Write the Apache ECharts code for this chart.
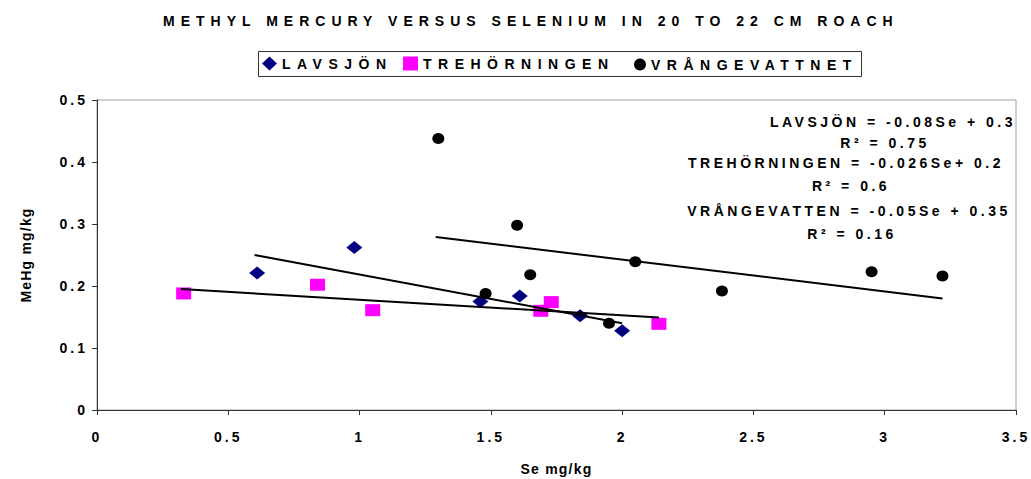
<!DOCTYPE html>
<html>
<head>
<meta charset="utf-8">
<script src="https://cdn.jsdelivr.net/npm/echarts@6/dist/echarts.min.js"></script>
<style>
  html, body { margin: 0; padding: 0; background: #fff; }
  #chart { width: 1031px; height: 479px; }
  /* the original uses wide letter spacing everywhere */
  #chart text[style*="zkTitle"] { letter-spacing: 6px; }
  #chart text[style*="zkLegend"] { letter-spacing: 6.5px; }
  #chart text[style*="zkNote"] { letter-spacing: 3.5px; }
  #chart text[style*="zkTick"] { letter-spacing: 3px; }
  #chart text[style*="zkName"] { letter-spacing: 1.2px; }
</style>
</head>
<body>
<div id="chart"></div>
<script>
// lakes
var lakeNames = ['LAVSJÖN', 'TREHÖRNINGEN', 'VRÅNGEVATTNET']

// Se mg/kg (x) and MeHg mg/kg (y) per fish
var lavX = [0.61, 0.98, 1.46, 1.61, 1.84, 2.00]
var lavY = [0.221, 0.262, 0.175, 0.184, 0.152, 0.128]
var treX = [0.33, 0.84, 1.05, 1.69, 1.73, 2.14]
var treY = [0.188, 0.202, 0.161, 0.160, 0.174, 0.139]
var vraX = [1.30, 1.48, 1.60, 1.65, 1.95, 2.05, 2.38, 2.95, 3.22]
var vraY = [0.438, 0.188, 0.298, 0.218, 0.140, 0.239, 0.192, 0.223, 0.216]

// linear trend lines, start and end
var lavLineX = [0.60, 2.00]
var lavLineY = [0.250, 0.140]
var treLineX = [0.32, 2.14]
var treLineY = [0.195, 0.149]
var vraLineX = [1.29, 3.22]
var vraLineY = [0.279, 0.180]

var noteLines = [
  'LAVSJÖN = -0.08Se + 0.3',
  'R² = 0.75',
  'TREHÖRNINGEN = -0.026Se+ 0.2',
  'R² = 0.6',
  'VRÅNGEVATTEN = -0.05Se + 0.35',
  'R² = 0.16'
]

function pairs(xs, ys) {
  return xs.map(function (x, i) { return [x, ys[i]] })
}

var font = '"Liberation Sans", Arial'
var chart = echarts.init(document.getElementById('chart'), null, { renderer: 'svg' })

var noteX = [893, 885, 846, 851, 849, 852]
var noteY = [122, 143, 163, 186, 211, 234]

// one legend per lake so each label keeps its spaced width
var legendLeft = [262, 403, 634]
var legendIcons = ['diamond', 'rect', 'circle']
var legendIconW = [15, 15, 12]
var legendIconH = [14, 14, 12]
var legends = lakeNames.map(function (n, i) {
  return {
    data: [{ name: n, icon: legendIcons[i] }],
    left: legendLeft[i],
    top: 63.5 - legendIconH[i] / 2,
    padding: 0,
    itemWidth: legendIconW[i],
    itemHeight: legendIconH[i],
    textStyle: {
      fontFamily: font + ', zkLegend',
      fontSize: 14,
      fontWeight: 'bold',
      color: '#000'
    }
  }
})

var graphics = noteLines.map(function (t, i) {
  return {
    type: 'text',
    x: noteX[i],
    y: noteY[i],
    style: {
      text: t,
      align: 'center',
      verticalAlign: 'middle',
      font: 'bold 14px ' + font + ', zkNote',
      fill: '#000'
    }
  }
})
// legend frame
graphics.push({
  type: 'rect',
  shape: { x: 258.5, y: 51.5, width: 603, height: 25 },
  style: { fill: 'none', stroke: '#333', lineWidth: 1 }
})

var option = {
  animation: false,
  title: {
    text: 'METHYL MERCURY VERSUS SELENIUM IN 20 TO 22 CM ROACH',
    left: 163,
    top: 14,
    padding: 0,
    textAlign: 'left',
    textVerticalAlign: 'top',
    textStyle: {
      fontFamily: font + ', zkTitle',
      fontSize: 14,
      fontWeight: 'bold',
      color: '#000'
    }
  },
  legend: legends,
  grid: {
    left: 97,
    right: 15,
    top: 100,
    bottom: 69,
    show: true,
    borderColor: '#a0a0a0',
    borderWidth: 1,
    outerBoundsMode: 'none'
  },
  xAxis: {
    type: 'value',
    min: 0,
    max: 3.5,
    interval: 0.5,
    name: 'Se mg/kg',
    nameLocation: 'middle',
    nameGap: 52,
    nameTextStyle: { fontFamily: font + ', zkName', fontSize: 14, fontWeight: 'bold', color: '#000' },
    axisLine: { lineStyle: { color: '#333', width: 1 } },
    axisTick: { length: 5, lineStyle: { color: '#333' } },
    axisLabel: { margin: 20, fontFamily: font + ', zkTick', fontSize: 14, fontWeight: 'bold', color: '#000' },
    splitLine: { show: false }
  },
  yAxis: {
    type: 'value',
    min: 0,
    max: 0.5,
    interval: 0.1,
    name: 'MeHg mg/kg',
    nameLocation: 'middle',
    nameGap: 64,
    nameTextStyle: { fontFamily: font + ', zkName', fontSize: 14, fontWeight: 'bold', color: '#000' },
    axisLine: { show: true, lineStyle: { color: '#333', width: 1 } },
    axisTick: { show: true, length: 5, lineStyle: { color: '#333' } },
    axisLabel: { margin: 9, fontFamily: font + ', zkTick', fontSize: 14, fontWeight: 'bold', color: '#000' },
    splitLine: { show: false }
  },
  graphic: graphics,
  series: [
    {
      name: lakeNames[0],
      type: 'scatter',
      symbol: 'diamond',
      symbolSize: [16, 13],
      itemStyle: { color: '#000080', opacity: 1 },
      data: pairs(lavX, lavY)
    },
    {
      name: lakeNames[1],
      type: 'scatter',
      symbol: 'rect',
      symbolSize: [15, 12],
      itemStyle: { color: '#ff00ff', opacity: 1 },
      data: pairs(treX, treY)
    },
    {
      name: lakeNames[2],
      type: 'scatter',
      symbol: 'circle',
      symbolSize: [12, 11],
      itemStyle: { color: '#000', opacity: 1 },
      data: pairs(vraX, vraY)
    },
    {
      type: 'line', z: 3, symbol: 'none',
      lineStyle: { color: '#000', width: 2 },
      data: pairs(lavLineX, lavLineY)
    },
    {
      type: 'line', z: 3, symbol: 'none',
      lineStyle: { color: '#000', width: 2 },
      data: pairs(treLineX, treLineY)
    },
    {
      type: 'line', z: 3, symbol: 'none',
      lineStyle: { color: '#000', width: 2 },
      data: pairs(vraLineX, vraLineY)
    }
  ]
}

chart.setOption(option)
</script>
</body>
</html>
